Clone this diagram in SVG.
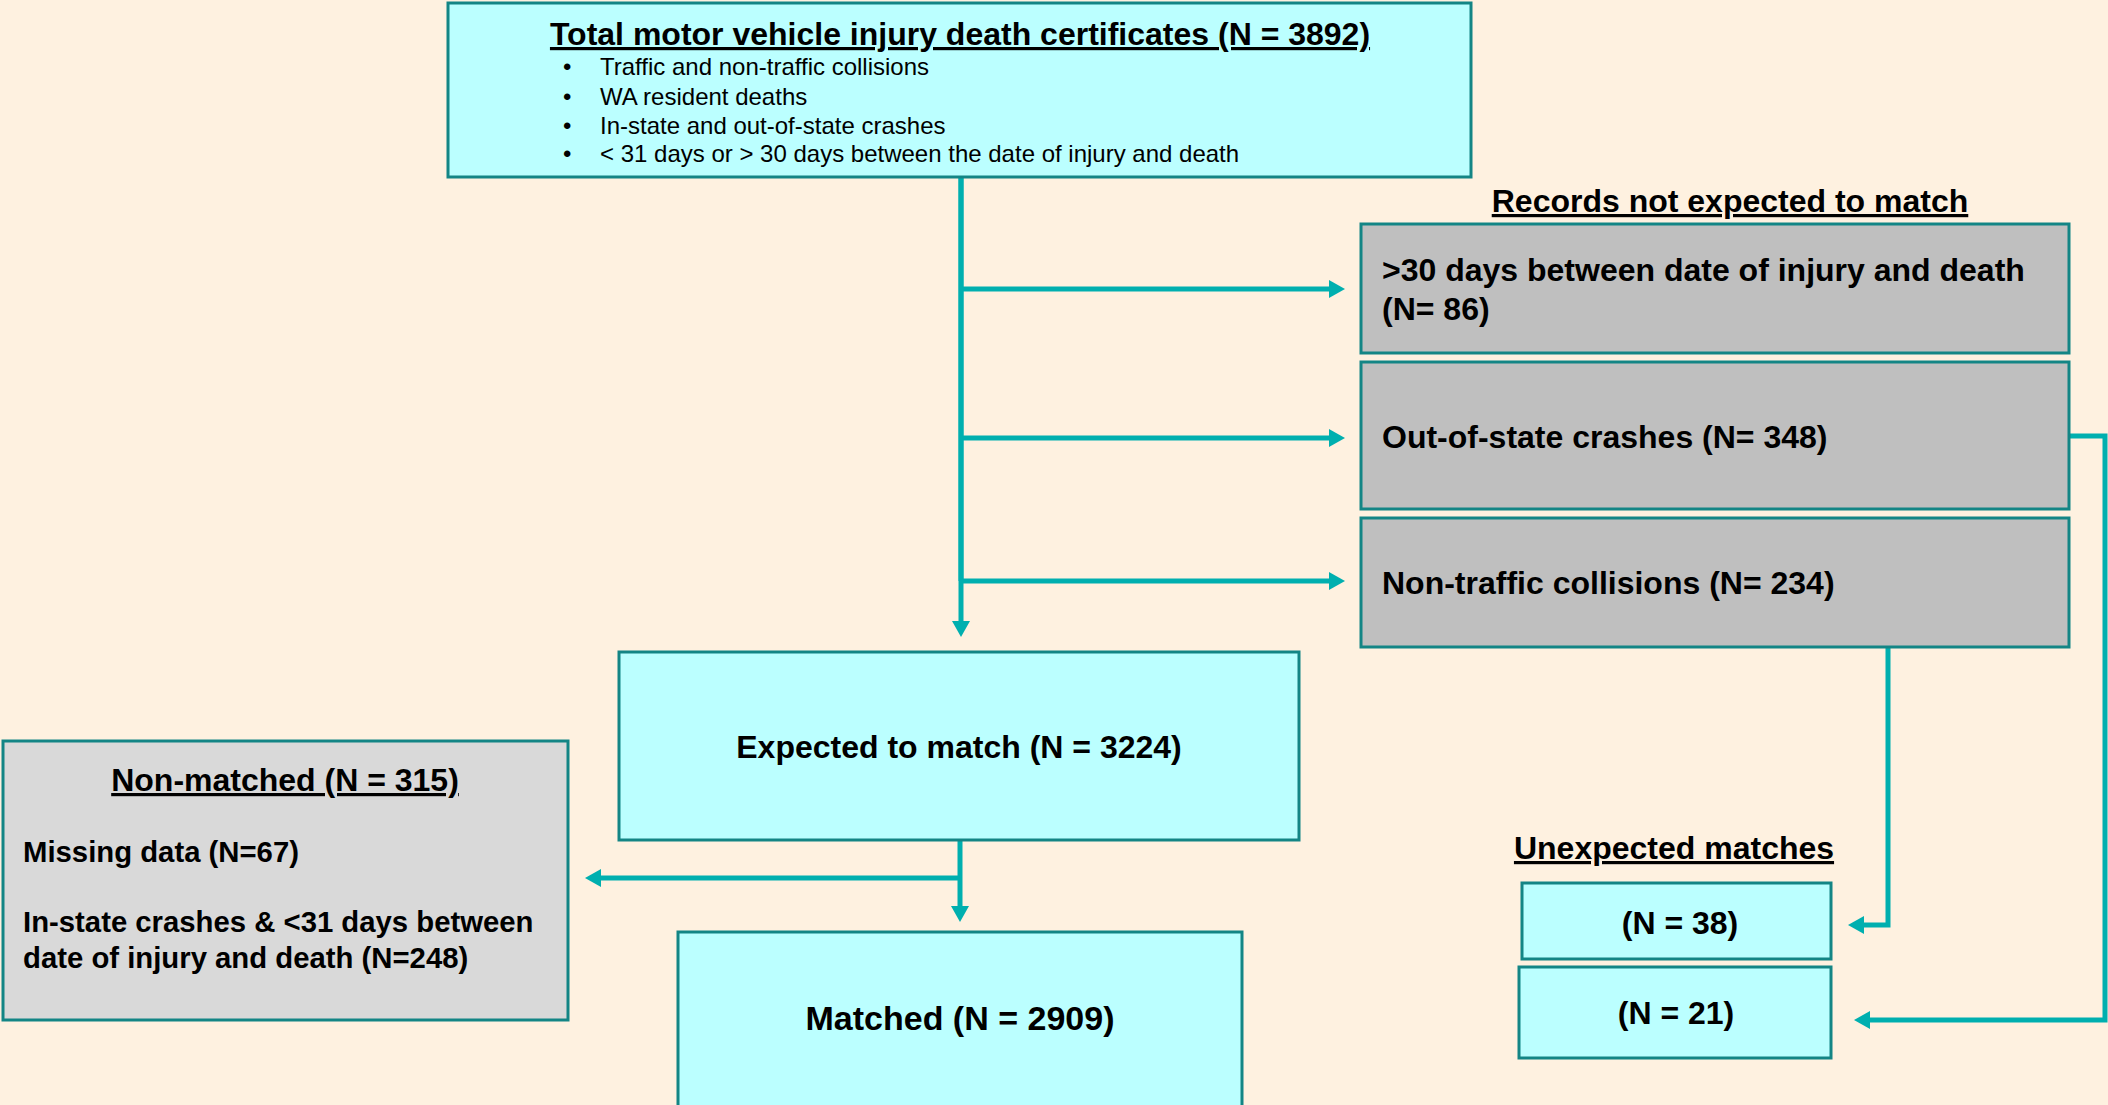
<svg xmlns="http://www.w3.org/2000/svg" width="2108" height="1105" viewBox="0 0 2108 1105">
<style>
text{font-family:"Liberation Sans",Arial,sans-serif;fill:#000}
.b{font-weight:bold;font-size:32px}
.s{font-weight:bold;font-size:29.3px}
.r{font-size:24px}
.u{text-decoration:underline}
.c{text-anchor:middle}
.cy{fill:#bbffff;stroke:#138585;stroke-width:3}
.gr{fill:#bfbfbf;stroke:#138585;stroke-width:3}
.lg{fill:#d9d9d9;stroke:#138585;stroke-width:3}
.con{fill:none;stroke:#00afaf;stroke-width:5;marker-end:url(#ah)}
.conn{fill:none;stroke:#00afaf;stroke-width:5}
</style>
<defs>
<marker id="ah" viewBox="0 0 16 18" refX="6" refY="9" markerWidth="16" markerHeight="18" markerUnits="userSpaceOnUse" orient="auto">
<path d="M0,0 L16,9 L0,18 Z" fill="#00afaf"/>
</marker>
</defs>
<rect width="2108" height="1105" fill="#fef1e0"/>

<g id="connectors">
<line class="conn" x1="961" y1="177" x2="961" y2="581"/>
<path class="con" d="M961,177 V627"/>
<path class="con" d="M961,289 H1335"/>
<path class="con" d="M961,438 H1335"/>
<path class="con" d="M961,581 H1335"/>
<path class="con" d="M960,840 V912"/>
<path class="con" d="M960,878 H595"/>
<path class="con" d="M1888,647 V925 H1858"/>
<path class="con" d="M2069,436 H2105 V1020 H1864"/>
</g>

<g id="total">
<rect class="cy" x="448" y="3" width="1023" height="174"/>
<text class="b u c" x="960" y="45">Total motor vehicle injury death certificates (N = 3892)</text>
<text class="r" x="563" y="75">•</text><text class="r" x="600" y="75">Traffic and non-traffic collisions</text>
<text class="r" x="563" y="105">•</text><text class="r" x="600" y="105">WA resident deaths</text>
<text class="r" x="563" y="134">•</text><text class="r" x="600" y="134">In-state and out-of-state crashes</text>
<text class="r" x="563" y="162">•</text><text class="r" x="600" y="162">&lt; 31 days or &gt; 30 days between the date of injury and death</text>
</g>

<g id="records-heading">
<text class="b u c" x="1730" y="212">Records not expected to match</text>
</g>

<g id="over30">
<rect class="gr" x="1361" y="224" width="708" height="129"/>
<text class="b" x="1382" y="281">&gt;30 days between date of injury and death</text>
<text class="b" x="1382" y="320">(N= 86)</text>
</g>

<g id="outofstate">
<rect class="gr" x="1361" y="362" width="708" height="147"/>
<text class="b" x="1382" y="448">Out-of-state crashes (N= 348)</text>
</g>

<g id="nontraffic">
<rect class="gr" x="1361" y="518" width="708" height="129"/>
<text class="b" x="1382" y="594">Non-traffic collisions (N= 234)</text>
</g>

<g id="expected">
<rect class="cy" x="619" y="652" width="680" height="188"/>
<text class="b c" x="959" y="758">Expected to match (N = 3224)</text>
</g>

<g id="nonmatched">
<rect class="lg" x="3" y="741" width="565" height="279"/>
<text class="b u c" x="285" y="791">Non-matched (N = 315)</text>
<text class="s" x="23" y="862">Missing data (N=67)</text>
<text class="s" x="23" y="932">In-state crashes &amp; &lt;31 days between</text>
<text class="s" x="23" y="968">date of injury and death (N=248)</text>
</g>

<g id="matched">
<rect class="cy" x="678" y="932" width="564" height="180"/>
<text class="b c" x="960" y="1030" style="font-size:34px">Matched (N = 2909)</text>
</g>

<g id="unexpected-heading">
<text class="b u c" x="1674" y="859">Unexpected matches</text>
</g>

<g id="n38">
<rect class="cy" x="1522" y="883" width="309" height="76"/>
<text class="b c" x="1680" y="934">(N = 38)</text>
</g>

<g id="n21">
<rect class="cy" x="1519" y="967" width="312" height="91"/>
<text class="b c" x="1676" y="1024">(N = 21)</text>
</g>
</svg>
